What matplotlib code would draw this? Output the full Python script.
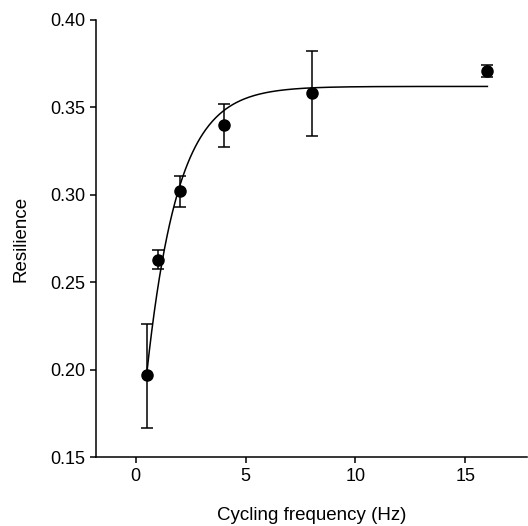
import matplotlib

matplotlib.use("Agg")
import matplotlib.pyplot as plt  # noqa: E402
import numpy as np  # noqa: E402
from matplotlib.ticker import FormatStrFormatter  # noqa: E402

plt.rcParams["font.family"] = ["Liberation Sans", "DejaVu Sans"]

# measured resilience vs cycling frequency (mean, +/- error)
freq_hz = [0.5, 1, 2, 4, 8, 16]
resilience = [0.197, 0.263, 0.302, 0.340, 0.358, 0.371]
err_upper = [0.029, 0.0055, 0.0087, 0.012, 0.0245, 0.0035]
err_lower = [0.0305, 0.0055, 0.0090, 0.0124, 0.0246, 0.0038]

# exponential rise fit: y = A - B*exp(-k*x)
fit_A = 0.362
fit_B = 0.2346
fit_k = 0.7065
fit_range = (0.5, 16)

fig = plt.figure(figsize=(5.28, 5.26), dpi=100)
ax = fig.add_axes([0.182, 0.131, 0.816, 0.831])

xs = np.linspace(fit_range[0], fit_range[1], 400)
ax.plot(xs, fit_A - fit_B * np.exp(-fit_k * xs), color="black", lw=1.1, zorder=2)

ax.errorbar(freq_hz, resilience, yerr=[err_lower, err_upper], fmt="o",
            color="black", ms=8, ecolor="black", elinewidth=1.1,
            capsize=4, capthick=1.1, zorder=3)

ax.set_xlim(-1.8, 17.8)
ax.set_ylim(0.15, 0.40)
ax.set_xticks([0, 5, 10, 15])
ax.set_yticks([0.15, 0.20, 0.25, 0.30, 0.35, 0.40])
ax.yaxis.set_major_formatter(FormatStrFormatter("%.2f"))
for side in ("top", "right"):
    ax.spines[side].set_visible(False)
for side in ("left", "bottom"):
    ax.spines[side].set_linewidth(1.1)
ax.tick_params(direction="out", length=4, width=1.1, labelsize=13, pad=4)
ax.set_xlabel("Cycling frequency (Hz)", fontsize=13.5, labelpad=16)
ax.set_ylabel("Resilience", fontsize=13.5, labelpad=15)

fig.savefig("out.png", dpi=100)
